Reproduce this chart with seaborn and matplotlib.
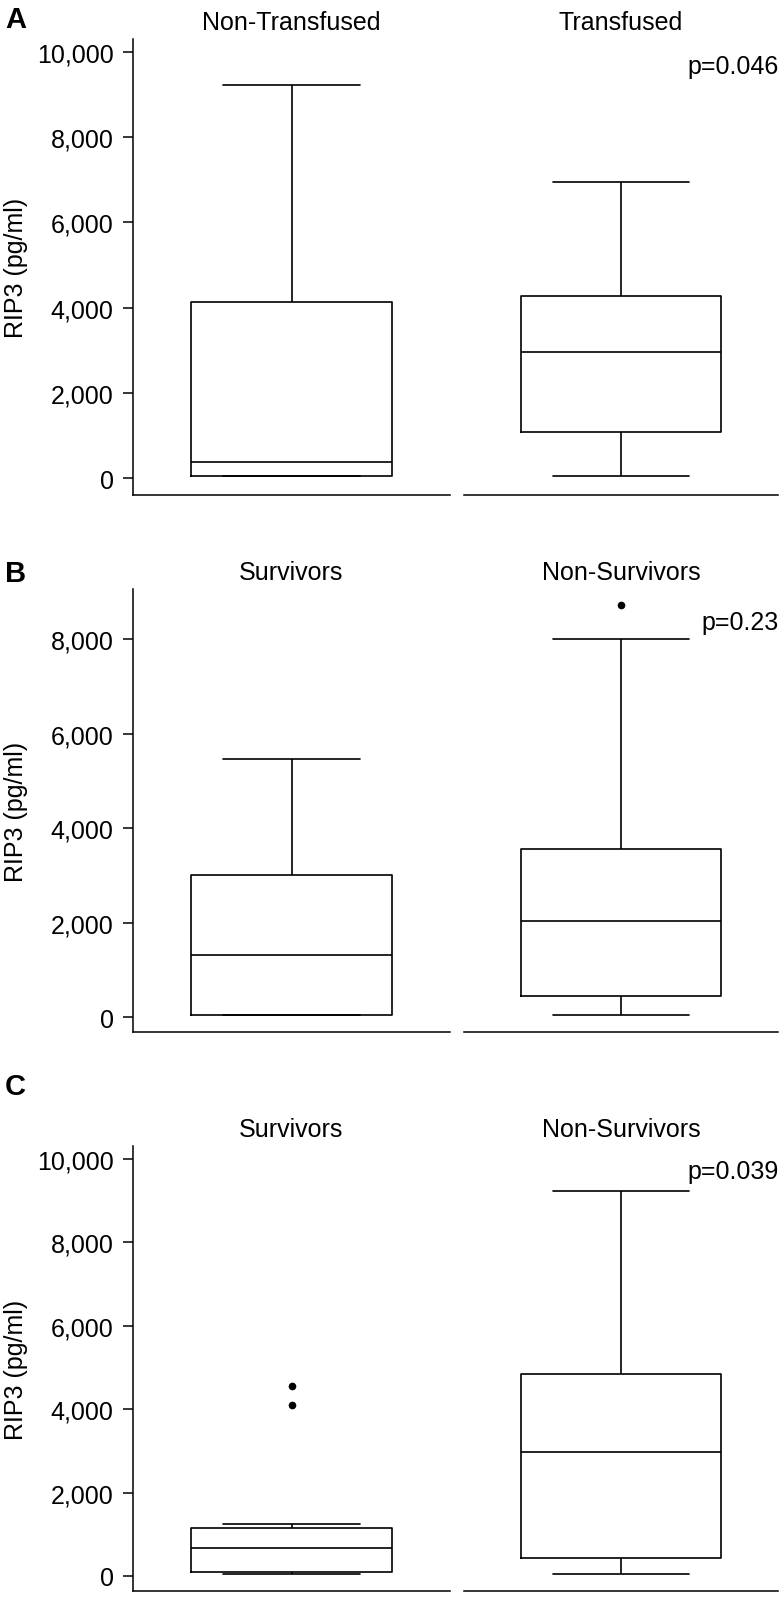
import matplotlib
matplotlib.use("Agg")
import matplotlib.pyplot as plt
import matplotlib.transforms as mtransforms
from matplotlib.ticker import FuncFormatter
import seaborn as sns
import pandas as pd

sns.set_style("white", rc={'text.color': 'black', 'axes.edgecolor': 'black',
                           'axes.labelcolor': 'black', 'xtick.color': 'black',
                           'ytick.color': 'black'})
plt.rcParams['font.family'] = ['Liberation Sans', 'DejaVu Sans']

# ----- box summaries (RIP3, pg/ml) -----
# A: transfusion
groups_a = ['Non-Transfused', 'Transfused']
lo_a = [50, 55]
q1_a = [55, 1086]
med_a = [375, 2961]
q3_a = [4125, 4273]
hi_a = [9234, 6945]
fliers_a = [[], []]
p_a = 'p=0.046'

# B: survival
groups_b = ['Survivors', 'Non-Survivors']
lo_b = [40, 41]
q1_b = [41, 451]
med_b = [1313, 2024]
q3_b = [3002, 3562]
hi_b = [5456, 8000]
fliers_b = [[], [8725]]
p_b = 'p=0.23'

# C: survival
groups_c = ['Survivors', 'Non-Survivors']
lo_c = [39, 55]
q1_c = [101, 421]
med_c = [670, 2977]
q3_c = [1161, 4848]
hi_c = [1247, 9228]
fliers_c = [[4108, 4560], []]
p_c = 'p=0.039'


def make_sample(lo, q1, med, q3, hi, fl, j=3):
    # 4j+1 points: the quartiles fall exactly on indices j, 2j, 3j
    return [lo] + [q1] * j + [med] * j + [q3] * j + [hi] * (j - len(fl)) + list(fl)


def make_df(groups, lo, q1, med, q3, hi, fliers):
    rows = []
    for i, g in enumerate(groups):
        for v in make_sample(lo[i], q1[i], med[i], q3[i], hi[i], fliers[i]):
            rows.append((g, v))
    return pd.DataFrame(rows, columns=['group', 'RIP3'])


panels = [
    dict(letter='A', df=make_df(groups_a, lo_a, q1_a, med_a, q3_a, hi_a, fliers_a),
         groups=groups_a, p=p_a, top=40, bot=496, ylim=(-399, 10305),
         ticks=[0, 2000, 4000, 6000, 8000, 10000], p_y=9671, letter_y=28),
    dict(letter='B', df=make_df(groups_b, lo_b, q1_b, med_b, q3_b, hi_b, fliers_b),
         groups=groups_b, p=p_b, top=590, bot=1033, ylim=(-317, 9058),
         ticks=[0, 2000, 4000, 6000, 8000], p_y=8360, letter_y=582),
    dict(letter='C', df=make_df(groups_c, lo_c, q1_c, med_c, q3_c, hi_c, fliers_c),
         groups=groups_c, p=p_c, top=1147, bot=1592, ylim=(-360, 10312),
         ticks=[0, 2000, 4000, 6000, 8000, 10000], p_y=9712, letter_y=1095),
]

W, H = 780, 1606
fig = plt.figure(figsize=(W / 100, H / 100), dpi=100)


def px_axes(x0, y0, x1, y1):
    return fig.add_axes([x0 / W, 1 - y1 / H, (x1 - x0) / W, (y1 - y0) / H])


fmt = FuncFormatter(lambda v, pos: f"{int(v):,}")
cols = [(133, 450), (464, 778)]

for pan in panels:
    for k, g in enumerate(pan['groups']):
        ax = px_axes(cols[k][0], pan['top'], cols[k][1], pan['bot'])
        sub = pan['df'][pan['df']['group'] == g]
        sns.boxplot(data=sub, x='group', y='RIP3', ax=ax, fill=False,
                    color='black', linecolor='black', linewidth=1.2, width=0.634,
                    capwidths=0.43,
                    flierprops=dict(marker='o', markerfacecolor='black',
                                    markeredgecolor='black', markersize=4.5))
        ax.set_xlim(-0.5, 0.5)
        ax.set_ylim(*pan['ylim'])
        ax.set_xlabel('')
        ax.set_xticks([])
        ax.set_title(g, fontsize=18, pad=7)
        for s in ['top', 'right']:
            ax.spines[s].set_visible(False)
        ax.spines['bottom'].set_linewidth(1.1)
        ax.spines['left'].set_linewidth(1.1)
        if k == 0:
            ax.set_yticks(pan['ticks'])
            ax.yaxis.set_major_formatter(fmt)
            ax.tick_params(axis='y', direction='out', length=7, width=1.1,
                           pad=7, labelsize=18, left=True)
            ax.set_ylabel('RIP3 (pg/ml)', fontsize=18)
            ax.yaxis.set_label_coords(-0.33, 0.5)
        else:
            ax.spines['left'].set_visible(False)
            ax.set_yticks([])
            ax.set_ylabel('')
            tr = mtransforms.blended_transform_factory(fig.transFigure, ax.transData)
            ax.text(779 / W, pan['p_y'], pan['p'], transform=tr, ha='right',
                    va='center', fontsize=18)
    fig.text(5 / W, 1 - pan['letter_y'] / H, pan['letter'], fontsize=21,
             fontweight='bold', va='baseline', ha='left')

fig.savefig('out.png', dpi=100)
